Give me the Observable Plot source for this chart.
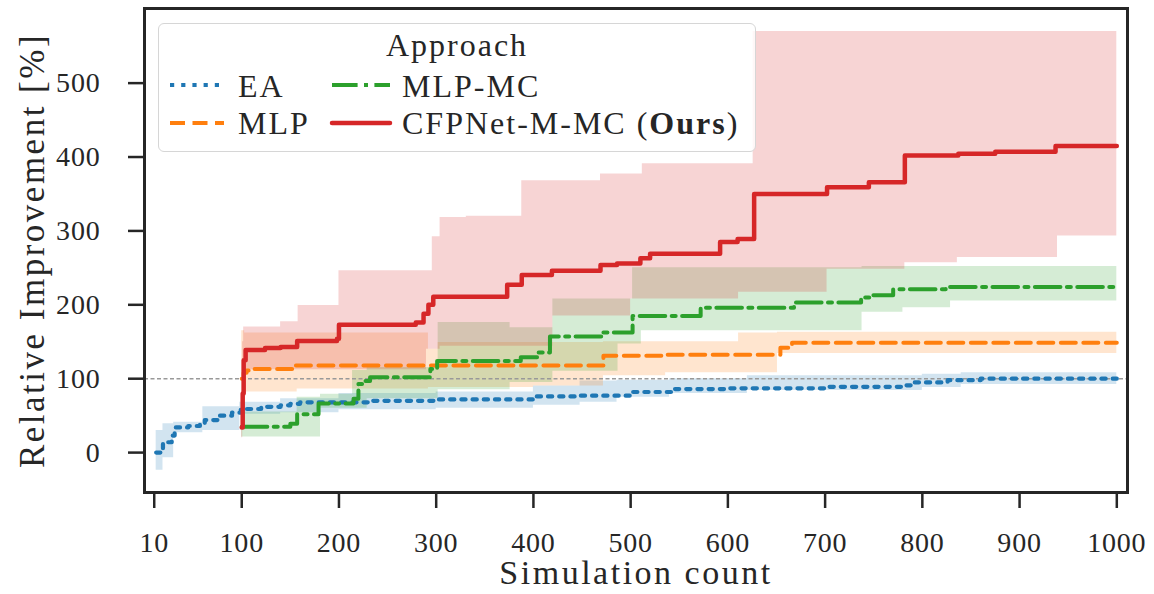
<!DOCTYPE html>
<html>
<head>
<meta charset="utf-8">
<script src="https://cdn.jsdelivr.net/npm/d3@7"></script>
<script src="https://cdn.jsdelivr.net/npm/@observablehq/plot@0.6"></script>
<style>
  body { margin: 0; background: white; }
  #wrap { position: relative; width: 1154px; height: 594px; }
  #legend {
    position: absolute; left: 158px; top: 23px; width: 596px; height: 127px;
    border: 1.5px solid #d6d6d6; border-radius: 6px; background: rgba(255,255,255,0.8);
    font-family: "Liberation Serif", serif; font-size: 32px; color: #262626; letter-spacing: 2px;
    line-height: 32px;
  }
  #legend .t { position: absolute; white-space: nowrap; }
  #legend svg { position: absolute; left: 0; top: 0; }
</style>
</head>
<body>
<div id="wrap">
  <div id="chart"></div>
  <div id="legend">
    <svg width="596" height="127">
      <line x1="11" x2="65" y1="61" y2="61" stroke="#1f77b4" stroke-width="4.2" stroke-dasharray="4.2,7"/>
      <line x1="11" x2="65" y1="99" y2="99" stroke="#ff7f0e" stroke-width="4" stroke-dasharray="15,7.5"/>
      <line x1="173" x2="231" y1="61" y2="61" stroke="#2ca02c" stroke-width="4" stroke-dasharray="25.6,6.4,4,6.4"/>
      <line x1="173" x2="231" y1="99" y2="99" stroke="#d62728" stroke-width="4.5" stroke-linecap="round"/>
    </svg>
    <div class="t" style="left:0;right:0;top:5px;text-align:center;">Approach</div>
    <div class="t" style="left:79px;top:46px;">EA</div>
    <div class="t" style="left:79px;top:83px;">MLP</div>
    <div class="t" style="left:243px;top:46px;">MLP-MC</div>
    <div class="t" style="left:243px;top:83px;">CFPNet-M-MC (<b>Ours</b>)</div>
  </div>
</div>
<script>
// ---- data ----
const xTicks = [10, 100, 200, 300, 400, 500, 600, 700, 800, 900, 1000];
const yTicks = [0, 100, 200, 300, 400, 500];
const baseline = 100;

// EA
const eaLineX = [12,19,28,31,45,57,62,75,90,99,120,140,150,160,230,300,400,448,499,544,600,700,778,788,826,860,1000];
const eaLineY = [0,14,23,34,36,39,44,50,54,59,62,64,66,68,70,72,76,77,82,86,87,89,91,95,98,100,100];
const eaBandX = [12,19,30,60,98,140,200,300,400,448,486,540,620,800,840,1000];
const eaBandLo = [-24,-7,27,30,52,54,58,60,64,68,75,80,84,88,92,92];
const eaBandHi = [30,39,41,62,68,73,80,82,90,97,98,100,104,106,108,108];

// MLP
const mlpLineX = [100,102,105,110,153,472,538,654,666,1000];
const mlpLineY = [100,108,111,113,118,131,132.5,142,148.6,148.6];
const mlpBandX = [100,103,157,292,302,400,472,536,611,651,1000];
const mlpBandLo = [80,82,86,88,88,90,104,108,108,134,134];
const mlpBandHi = [165,162,162,140,149,149,150,150,162,163,163];

// MLP-MC
const mcLineX = [100,150,157,179,215,220,225,232,294,301,387,405,417,472,502,572,668,737,747,770,824,1000];
const mcLineY = [35,39,52,66.6,73,93,97,102,113,124,129,135.5,157,162.6,185,196,203,210,213,221,224,224];
const mcBandX = [100,157,181,214,229,302,376,420,487,502,511,738,780,829,1000];
const mcBandLo = [21,21,60,60,73,85,95,110,147,147,165,190,196,205,205];
const mcBandHi = [55,75,79,111,115,176,169,208,208,250,250,252,252,252,252];

// CFPNet-M-MC (Ours)
const cfpLineX = [100,101,102,104,124,140,157,198,200,279,287,292,297,373,388,419,469,486,510,520,592,610,627,702,745,782,837,875,937,1000];
const cfpLineY = [34,80,125,139,141.5,143,151,154,173,176,188,200,211,227,240.5,246,254,256,263,269,285,289,350,359,366,402,404.5,407,415,415];
const cfpBandX = [100,101,102,140,158,200,290,296,304,331,388,420,469,500,512,611,626,702,782,836,939,1000];
const cfpBandLo = [20,60,112,112,112,112,140,140,144,144,144,185,185,208,208,217,217,248,257,264,293,293];
const cfpBandHi = [60,150,170,177,199,246,246,292,318,320,368,368,377,377,391,391,570,570,570,570,570,570];

const colors = { ea: "#1f77b4", mlp: "#ff7f0e", mc: "#2ca02c", cfp: "#d62728" };

const line = (xs, ys) => xs.map((x, i) => ({ x, y: ys[i] }));
const band = (xs, lo, hi) => xs.map((x, i) => ({ x, lo: lo[i], hi: hi[i] }));

const bandMark = (data, c) => Plot.areaY(data, { x: "x", y1: "lo", y2: "hi", fill: c, fillOpacity: 0.2, curve: "step-after" });

const chart = Plot.plot({
  width: 1154,
  height: 594,
  marginLeft: 144,
  marginRight: 27,
  marginTop: 8,
  marginBottom: 102,
  x: { domain: [0, 1011] },
  y: { domain: [-54, 601] },
  style: { fontFamily: "'Liberation Serif', serif", fontSize: "28px", background: "white", color: "#262626" },
  marks: [
    bandMark(band(eaBandX, eaBandLo, eaBandHi), colors.ea),
    bandMark(band(mlpBandX, mlpBandLo, mlpBandHi), colors.mlp),
    bandMark(band(mcBandX, mcBandLo, mcBandHi), colors.mc),
    bandMark(band(cfpBandX, cfpBandLo, cfpBandHi), colors.cfp),
    Plot.ruleY([baseline], { stroke: "#999", strokeWidth: 1.5, strokeDasharray: "4,2.5" }),
    Plot.line(line(eaLineX, eaLineY), { x: "x", y: "y", stroke: colors.ea, strokeWidth: 4.2, strokeDasharray: "4.2,7", curve: "step-after" }),
    Plot.line(line(mlpLineX, mlpLineY), { x: "x", y: "y", stroke: colors.mlp, strokeWidth: 4, strokeDasharray: "15,7.5", curve: "step-after" }),
    Plot.line(line(mcLineX, mcLineY), { x: "x", y: "y", stroke: colors.mc, strokeWidth: 4, strokeDasharray: "25.6,6.4,4,6.4", curve: "step-after" }),
    Plot.line(line(cfpLineX, cfpLineY), { x: "x", y: "y", stroke: colors.cfp, strokeWidth: 4.5, strokeLinecap: "round", strokeLinejoin: "round", curve: "step-after" }),
    Plot.frame({ stroke: "#262626", strokeWidth: 3 }),
    Plot.axisX({ ticks: xTicks, tickSize: 16, tickPadding: 24, strokeWidth: 2.5, label: null, tickFormat: d => String(d) }),
    Plot.axisY({ ticks: yTicks, tickSize: 16, tickPadding: 28, strokeWidth: 2.5, label: null, tickFormat: d => String(d) }),
    Plot.text(["Relative Improvement [%]"], { text: d => d, frameAnchor: "left", dx: -112, rotate: -90, textAnchor: "middle", lineAnchor: "middle", fontSize: 35, fill: "#262626" }),
    Plot.text(["Simulation count"], { text: d => d, frameAnchor: "bottom", dy: 81, textAnchor: "middle", lineAnchor: "middle", fontSize: 34, fill: "#262626" })
  ]
});
document.getElementById("chart").appendChild(chart);
d3.select(chart).selectAll('g[aria-label="text"] text').style("letter-spacing", "2.5px");
d3.select(chart).selectAll('g[aria-label="x-axis tick label"] text, g[aria-label="y-axis tick label"] text').style("letter-spacing", "0.8px");
</script>
</body>
</html>
